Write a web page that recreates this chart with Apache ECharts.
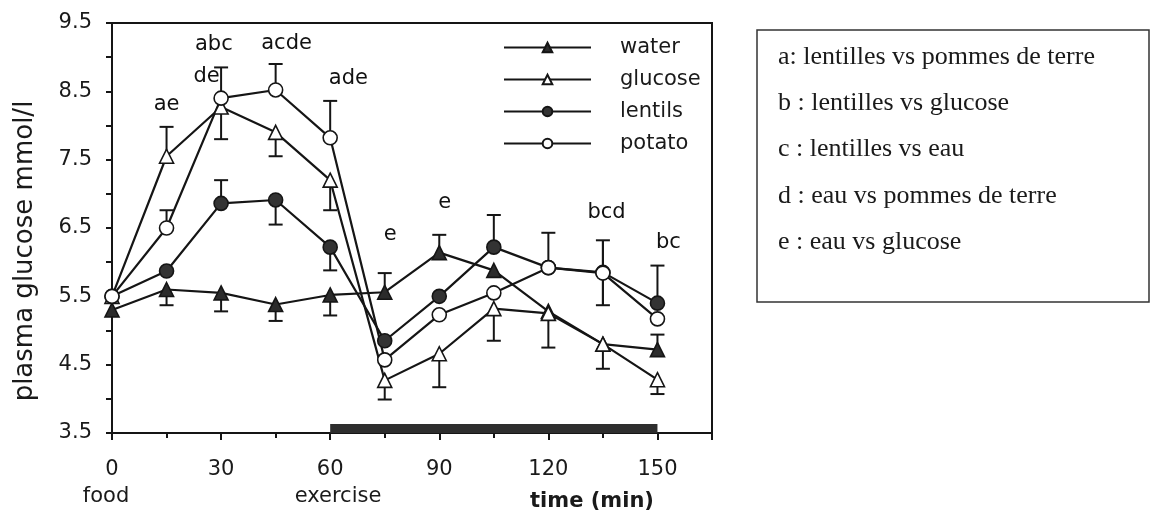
<!DOCTYPE html>
<html>
<head>
<meta charset="utf-8">
<script src="https://cdn.jsdelivr.net/npm/echarts@6/dist/echarts.min.js"></script>
<style>
html, body { margin: 0; padding: 0; background: #fff; }
#chart { width: 1150px; height: 516px; }
</style>
</head>
<body>
<div id="chart"></div>
<script>
// time points (min)
const times = [0, 15, 30, 45, 60, 75, 90, 105, 120, 135, 150];

// mean plasma glucose, mmol/l
const water   = [5.3, 5.6, 5.55, 5.38, 5.52, 5.56, 6.14, 5.88, 5.28, 4.8, 4.72];
const glucose = [5.5, 7.55, 8.27, 7.9, 7.2, 4.27, 4.66, 5.32, 5.25, 4.8, 4.28];
const lentils = [5.5, 5.87, 6.86, 6.91, 6.22, 4.85, 5.5, 6.22, 5.92, 5.85, 5.4];
const potato  = [5.5, 6.5, 8.4, 8.52, 7.82, 4.57, 5.23, 5.55, 5.92, 5.84, 5.17];

// error bar ends (a number = one-sided bar, [lo, hi] = both sides)
const waterErr   = [null, 5.37, 5.28, 5.14, 5.22, 5.84, 6.4, null, null, null, 4.94];
const glucoseErr = [null, 7.98, 7.8, 7.55, 6.76, 3.99, 4.17, 4.85, 4.75, 4.44, 4.07];
const lentilsErr = [null, null, 7.2, 6.55, 5.88, null, null, 6.69, null, null, 5.95];
const potatoErr  = [null, 6.76, 8.85, 8.9, 8.36, null, null, null, 6.43, [5.37, 6.32], null];

// significance letters: [time, level, text]
const letters = [
  [15, 8.31, 'ae'],
  [28, 9.18, 'abc'],
  [26, 8.71, 'de'],
  [48, 9.2, 'acde'],
  [65, 8.68, 'ade'],
  [76.5, 6.4, 'e'],
  [91.5, 6.87, 'e'],
  [136, 6.72, 'bcd'],
  [153, 6.28, 'bc']
];

const exerciseSpan = [60, 150];

const notes = [
  'a: lentilles vs pommes de terre',
  'b : lentilles vs glucose',
  'c : lentilles vs eau',
  'd : eau vs pommes de terre',
  'e : eau vs glucose'
];

const ink = '#151515';
const sans = '"DejaVu Sans", "Liberation Sans", sans-serif';

// error bars: [x, from, to], cap drawn at "to"
function errData(vals, errs) {
  const out = [];
  errs.forEach((e, i) => {
    if (e === null) return;
    if (Array.isArray(e)) {
      out.push([times[i], e[1], e[0]]);
      out.push([times[i], e[0], e[1]]);
    } else {
      out.push([times[i], vals[i], e]);
    }
  });
  return out;
}

function errSeries(vals, errs) {
  return {
    type: 'custom',
    data: errData(vals, errs),
    z: 2,
    silent: true,
    renderItem: (params, api) => {
      const x = api.value(0);
      const a = api.coord([x, api.value(1)]);
      const b = api.coord([x, api.value(2)]);
      const style = { stroke: ink, lineWidth: 2 };
      return {
        type: 'group',
        children: [
          { type: 'line', shape: { x1: a[0], y1: a[1], x2: b[0], y2: b[1] }, style },
          { type: 'line', shape: { x1: b[0] - 7, y1: b[1], x2: b[0] + 7, y2: b[1] }, style }
        ]
      };
    }
  };
}

function lineSeries(name, vals, symbol, fill) {
  return {
    name,
    type: 'line',
    data: times.map((t, i) => [t, vals[i]]),
    symbol,
    symbolSize: 14,
    showAllSymbol: true,
    z: 4,
    itemStyle: { color: fill, borderColor: ink, borderWidth: 1.6 },
    lineStyle: { color: ink, width: 2.2 }
  };
}

const chart = echarts.init(document.getElementById('chart'));

const waterSeries = lineSeries('water', water, 'triangle', '#2b2b2b');
waterSeries.markArea = {
  silent: true,
  itemStyle: { color: '#2e2e2e' },
  data: [[{ xAxis: exerciseSpan[0], yAxis: 3.5 }, { xAxis: exerciseSpan[1], yAxis: 3.63 }]]
};

const option = {
  animation: false,
  backgroundColor: '#fff',
  grid: {
    left: 112, top: 23, width: 600, height: 410,
    show: true, borderColor: ink, borderWidth: 2, backgroundColor: 'transparent'
  },
  xAxis: {
    type: 'value',
    min: 0, max: 165, interval: 30,
    axisLine: { lineStyle: { color: ink, width: 2 } },
    axisTick: { length: 7, lineStyle: { color: ink, width: 2 } },
    minorTick: { show: true, splitNumber: 2, length: 5, lineStyle: { color: ink, width: 2 } },
    splitLine: { show: false },
    axisLabel: {
      color: '#1a1a1a', fontSize: 21, fontFamily: sans, margin: 26,
      showMaxLabel: false,
      formatter: v => (v % 30 === 0 && v <= 150) ? String(v) : ''
    }
  },
  yAxis: {
    type: 'value',
    min: 3.5, max: 9.5, interval: 0.5,
    axisLine: { show: true, lineStyle: { color: ink, width: 2 } },
    axisTick: { show: true, length: 6, lineStyle: { color: ink, width: 2 } },
    splitLine: { show: false },
    axisLabel: {
      color: '#1a1a1a', fontSize: 21, fontFamily: sans, margin: 20,
      formatter: v => (Math.round(v * 2) % 2 === 1) ? v.toFixed(1) : ''
    }
  },
  legend: {
    data: ['water', 'glucose', 'lentils', 'potato'],
    orient: 'vertical',
    left: 498, top: 32,
    itemWidth: 87, itemHeight: 12, itemGap: 11,
    textStyle: { color: '#1a1a1a', fontSize: 21, fontFamily: sans, padding: [0, 0, 0, 24] }
  },
  series: [
    errSeries(water, waterErr),
    errSeries(glucose, glucoseErr),
    errSeries(lentils, lentilsErr),
    errSeries(potato, potatoErr),
    waterSeries,
    lineSeries('glucose', glucose, 'triangle', '#fff'),
    lineSeries('lentils', lentils, 'circle', '#333'),
    lineSeries('potato', potato, 'circle', '#fff'),
    {
      type: 'scatter',
      data: letters,
      symbolSize: 1,
      itemStyle: { color: 'rgba(0,0,0,0)', opacity: 1 },
      silent: true,
      z: 5,
      label: {
        show: true, position: 'inside',
        formatter: p => p.value[2],
        color: '#111', fontSize: 21, fontFamily: sans
      }
    }
  ],
  graphic: [
    {
      type: 'text', x: 25, y: 251, rotation: Math.PI / 2,
      style: { text: 'plasma glucose mmol/l', font: '26px ' + sans, fill: '#1a1a1a', textAlign: 'center', textVerticalAlign: 'middle' }
    },
    { type: 'text', x: 106, y: 497, style: { text: 'food', font: '21px ' + sans, fill: '#1a1a1a', textAlign: 'center', textVerticalAlign: 'middle' } },
    { type: 'text', x: 338, y: 497, style: { text: 'exercise', font: '21px ' + sans, fill: '#1a1a1a', textAlign: 'center', textVerticalAlign: 'middle' } },
    { type: 'text', x: 592, y: 502, style: { text: 'time (min)', font: 'bold 21px ' + sans, fill: '#1a1a1a', textAlign: 'center', textVerticalAlign: 'middle' } },
    {
      type: 'rect', shape: { x: 757, y: 30, width: 392, height: 272 },
      style: { fill: 'none', stroke: '#333', lineWidth: 1.5 }
    }
  ].concat(notes.map((t, i) => ({
    type: 'text', x: 778, y: 57 + i * 46.3,
    style: { text: t, font: '26px "Liberation Serif", "Times New Roman", serif', fill: '#1a1a1a', textVerticalAlign: 'middle' }
  })))
};

chart.setOption(option);
</script>
</body>
</html>
